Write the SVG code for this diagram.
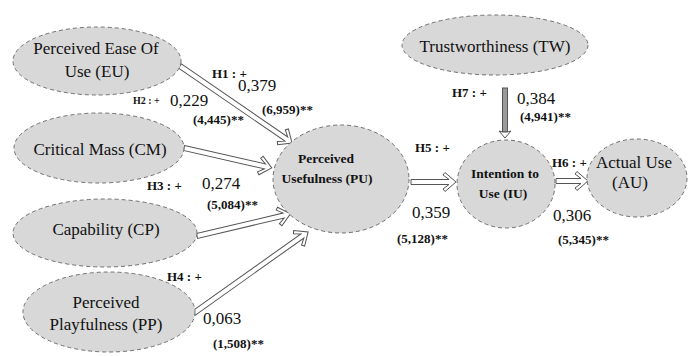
<svg xmlns="http://www.w3.org/2000/svg" width="691" height="356" viewBox="0 0 691 356" font-family="Liberation Serif, Times New Roman, DejaVu Serif, serif">
<style>
.node{fill:#d8d8d8;stroke:#707070;stroke-width:1;stroke-dasharray:4 3}
.t{font-size:17px;fill:#111;text-anchor:middle}
.tb{font-size:13.5px;font-weight:bold;fill:#111;text-anchor:middle}
.h{font-size:13px;font-weight:bold;fill:#111}
.v{font-size:17px;fill:#111}
.s{font-size:13px;font-weight:bold;fill:#111}
.arr{fill:#fff;stroke:#555;stroke-width:1;stroke-linejoin:miter}
</style>
<rect width="691" height="356" fill="#fff"/>
<g id="connectors">
<polygon class="arr" transform="translate(180,66) rotate(34.5)" points="0,-2.5 129,-2.5 123,-7 125,-9.5 136,0 125,9.5 123,7 129,2.5 0,2.5"/>
<polygon class="arr" transform="translate(184,148) rotate(12.8)" points="0,-2.5 83,-2.5 77,-7 79,-9.5 90,0 79,9.5 77,7 83,2.5 0,2.5"/>
<polygon class="arr" transform="translate(197,236) rotate(-13.3)" points="0,-2.5 89,-2.5 83,-7 85,-9.5 96,0 85,9.5 83,7 89,2.5 0,2.5"/>
<polygon class="arr" transform="translate(194,313) rotate(-35.4)" points="0,-2.5 133,-2.5 127,-7 129,-9.5 140,0 129,9.5 127,7 133,2.5 0,2.5"/>
<polygon class="arr" transform="translate(411,182)" points="0,-2.5 38,-2.5 32,-7 34,-9.5 45,0 34,9.5 32,7 38,2.5 0,2.5"/>
<polygon class="arr" transform="translate(556,181)" points="0,-2.5 25,-2.5 19,-7 21,-9.5 32,0 21,9.5 19,7 25,2.5 0,2.5"/>
<g transform="translate(505,88) rotate(90)">
<rect x="0" y="-2.5" width="44" height="5" fill="#9a9a9a" stroke="#555" stroke-width="1"/>
<polygon class="arr" points="44,-2.5 43,-6 50,0 43,6 44,2.5"/>
</g>
</g>
<g id="EU">
<ellipse class="node" cx="97" cy="61" rx="84" ry="34"/>
<text class="t" x="96" y="54">Perceived Ease Of</text>
<text class="t" x="97" y="77">Use (EU)</text>
</g>
<g id="CM">
<ellipse class="node" cx="99" cy="148" rx="85" ry="35"/>
<text class="t" x="100" y="155">Critical Mass (CM)</text>
</g>
<g id="CP">
<ellipse class="node" cx="105" cy="233" rx="92" ry="34"/>
<text class="t" x="106" y="235">Capability (CP)</text>
</g>
<g id="PP">
<ellipse class="node" cx="109" cy="312" rx="86" ry="40"/>
<text class="t" x="106" y="308">Perceived</text>
<text class="t" x="106" y="330">Playfulness (PP)</text>
</g>
<g id="PU">
<ellipse class="node" cx="341" cy="179" rx="68" ry="54"/>
<text class="tb" x="326" y="163">Perceived</text>
<text class="tb" x="327" y="183">Usefulness (PU)</text>
</g>
<g id="TW">
<ellipse class="node" cx="495" cy="45" rx="93" ry="30"/>
<text class="t" x="495" y="52">Trustworthiness (TW)</text>
</g>
<g id="IU">
<ellipse class="node" cx="506" cy="184" rx="49" ry="44"/>
<text class="tb" x="505" y="178">Intention to</text>
<text class="tb" x="503" y="198">Use (IU)</text>
</g>
<g id="AU">
<ellipse class="node" cx="637" cy="178" rx="50" ry="39"/>
<text class="t" x="634" y="168">Actual Use</text>
<text class="t" x="630" y="188">(AU)</text>
</g>
<g id="labels">
<text class="h" x="212" y="78">H1 : +</text>
<text class="v" x="238" y="91">0,379</text>
<text class="s" x="262" y="114">(6,959)**</text>
<text class="h" x="133" y="104" style="font-size:10px">H2 : +</text>
<text class="v" x="170" y="106">0,229</text>
<text class="s" x="193" y="124">(4,445)**</text>
<text class="h" x="147" y="190">H3 : +</text>
<text class="v" x="202" y="189">0,274</text>
<text class="s" x="207" y="209">(5,084)**</text>
<text class="h" x="167" y="281">H4 : +</text>
<text class="v" x="203" y="324">0,063</text>
<text class="s" x="213" y="348">(1,508)**</text>
<text class="h" x="415" y="152">H5 : +</text>
<text class="v" x="412" y="218">0,359</text>
<text class="s" x="397" y="243">(5,128)**</text>
<text class="h" x="552" y="167">H6 : +</text>
<text class="v" x="553" y="221">0,306</text>
<text class="s" x="558" y="244">(5,345)**</text>
<text class="h" x="452" y="97">H7 : +</text>
<text class="v" x="517" y="104">0,384</text>
<text class="s" x="520" y="121">(4,941)**</text>
</g>
</svg>
